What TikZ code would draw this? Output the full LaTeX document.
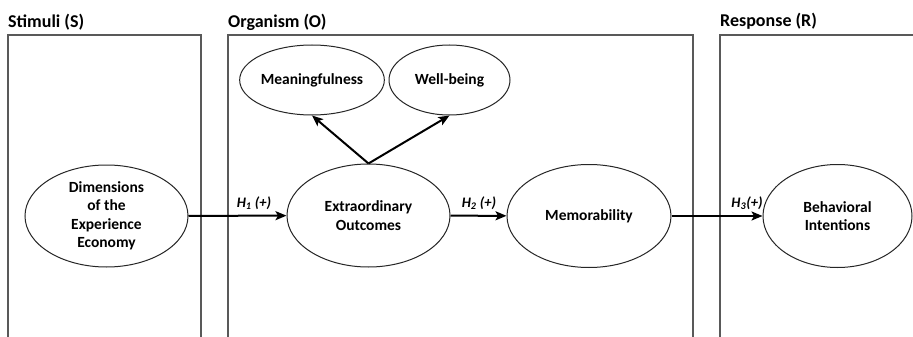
\documentclass[tikz,border=0pt]{standalone}
\usepackage{fontspec}
\setmainfont{Carlito}
\usetikzlibrary{arrows.meta,shapes.geometric}
\tikzset{
  boxline/.style={draw=black!65,line width=1.1pt},
  oval/.style={ellipse,draw=black!85,line width=1pt,inner sep=0pt,align=center,
    font=\fontsize{15.5}{18.5}\selectfont\bfseries},
  arr/.style={line width=2pt,-{Stealth[length=11pt,width=9pt,inset=2.5pt]}},
  hlab/.style={font=\fontsize{14.5}{16}\selectfont\bfseries\itshape,inner sep=0pt},
  title/.style={font=\fontsize{18}{20}\selectfont\bfseries,inner sep=0pt,anchor=base west}
}
\begin{document}
\begin{tikzpicture}[x=1pt,y=-1pt]
\useasboundingbox (0,0) rectangle (913,337);
\fill[white] (0,0) rectangle (913,337);
% group boxes (open at the bottom)
\draw[boxline] (8,345) -- (8,35) -- (201,35) -- (201,345);
\draw[boxline] (228,345) -- (228,35) -- (693,35) -- (693,345);
\draw[boxline] (720,345) -- (720,35) -- (940,35);
% titles
\node[title] (tS) at (8,28) {Stimuli (S)};
\node[title] (tO) at (228,28) {Organism (O)};
\node[title] (tR) at (720,27) {Response (R)};
% constructs
\node[oval,minimum width=163pt,minimum height=102pt] (dim) at (106.5,216) {Dimensions\\of the\\Experience\\Economy};
\node[oval,minimum width=163pt,minimum height=103pt] (ext) at (368.5,215.5) {Extraordinary\\Outcomes};
\node[oval,minimum width=164pt,minimum height=103pt] (mem) at (589,216) {Memorability};
\node[oval,minimum width=149pt,minimum height=103pt] (beh) at (837.5,216) {Behavioral\\Intentions};
\node[oval,minimum width=118pt,minimum height=70pt] (mea) at (312,80) {Meaningfulness};
\node[oval,minimum width=121pt,minimum height=70pt] (wel) at (449.5,80) {Well-being};
% connectors
\draw[arr] (dim) -- (ext);
\draw[arr] (ext) -- (mem);
\draw[arr] (mem) -- (beh);
\draw[arr] (ext.north) -- (mea.south);
\draw[arr] (ext.north) -- (wel.south);
% hypothesis labels
\node[hlab] (h1) at (254,203) {H\textsubscript{1} (+)};
\node[hlab] (h2) at (479,203) {H\textsubscript{2} (+)};
\node[hlab] (h3) at (747,203) {H\textsubscript{3}(+)};
\end{tikzpicture}
\end{document}
